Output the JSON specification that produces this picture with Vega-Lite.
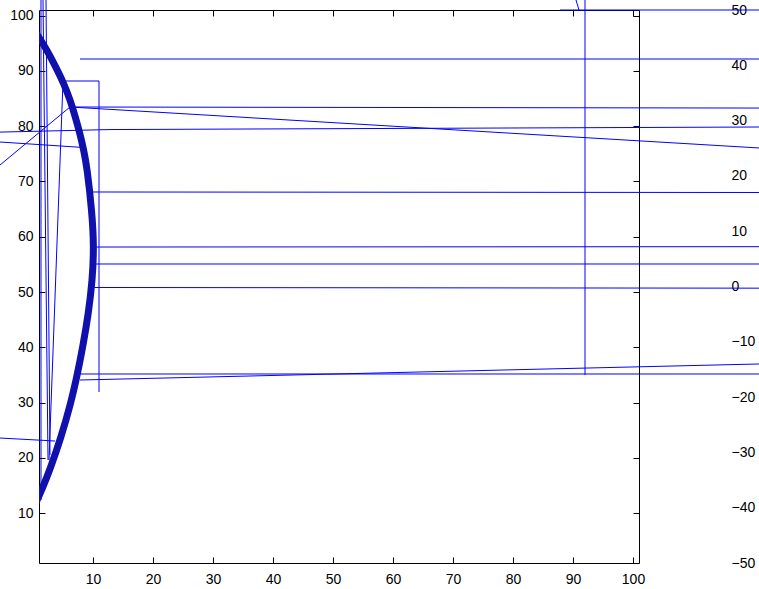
{
  "$schema": "https://vega.github.io/schema/vega-lite/v6.json",
  "width": 600,
  "height": 553,
  "autosize": {"type": "none"},
  "padding": {"left": 39, "top": 10, "right": 120, "bottom": 26},
  "background": "white",
  "config": {
    "view": {"stroke": null},
    "axis": {
      "grid": false,
      "title": null,
      "labelFont": "Liberation Sans",
      "labelFontSize": 14,
      "labelColor": "#000000",
      "domainColor": "#000000",
      "tickColor": "#000000",
      "domainWidth": 1,
      "tickWidth": 1
    }
  },
  "datasets": {
    "thin": [
      {"seg": "s1", "i": 0, "x": 1.333, "y": 102.81},
      {"seg": "s1", "i": 1, "x": 1.333, "y": 12.39},
      {"seg": "s2", "i": 0, "x": 1.667, "y": 102.81},
      {"seg": "s2", "i": 1, "x": 2.5, "y": 19.63},
      {"seg": "s3", "i": 0, "x": 2.167, "y": 102.81},
      {"seg": "s3", "i": 1, "x": 2.833, "y": 20.53},
      {"seg": "s4", "i": 0, "x": 11, "y": 31.92},
      {"seg": "s4", "i": 1, "x": 11, "y": 88.16},
      {"seg": "s4", "i": 2, "x": 5, "y": 88.16},
      {"seg": "s4", "i": 3, "x": 2.667, "y": 19.63},
      {"seg": "s5", "i": 0, "x": -5.5, "y": 72.97},
      {"seg": "s5", "i": 1, "x": 6.167, "y": 83.46},
      {"seg": "s5", "i": 2, "x": 121, "y": 83.27},
      {"seg": "s6", "i": 0, "x": 6.167, "y": 83.46},
      {"seg": "s6", "i": 1, "x": 121, "y": 76.05},
      {"seg": "s7", "i": 0, "x": 7.833, "y": 92.14},
      {"seg": "s7", "i": 1, "x": 121, "y": 92.14},
      {"seg": "s8", "i": 0, "x": -5.5, "y": 78.92},
      {"seg": "s8", "i": 1, "x": 12.833, "y": 79.38},
      {"seg": "s8", "i": 2, "x": 121, "y": 79.84},
      {"seg": "s9", "i": 0, "x": -5.5, "y": 77.13},
      {"seg": "s9", "i": 1, "x": 8.333, "y": 76.14},
      {"seg": "s10", "i": 0, "x": 10, "y": 68.09},
      {"seg": "s10", "i": 1, "x": 121, "y": 68.0},
      {"seg": "s11", "i": 0, "x": 10.5, "y": 58.14},
      {"seg": "s11", "i": 1, "x": 121, "y": 58.2},
      {"seg": "s12", "i": 0, "x": 10.5, "y": 55.07},
      {"seg": "s12", "i": 1, "x": 121, "y": 55.07},
      {"seg": "s13", "i": 0, "x": 10, "y": 50.82},
      {"seg": "s13", "i": 1, "x": 121, "y": 50.7},
      {"seg": "s14", "i": 0, "x": 7.833, "y": 35.18},
      {"seg": "s14", "i": 1, "x": 121, "y": 35.18},
      {"seg": "s15", "i": 0, "x": 7.833, "y": 34.09},
      {"seg": "s15", "i": 1, "x": 121, "y": 36.99},
      {"seg": "s16", "i": 0, "x": -5.5, "y": 23.6},
      {"seg": "s16", "i": 1, "x": 3.67, "y": 23.06},
      {"seg": "s17", "i": 0, "x": 92, "y": 102.81},
      {"seg": "s17", "i": 1, "x": 92, "y": 35.0},
      {"seg": "s18", "i": 0, "x": 87.833, "y": 101},
      {"seg": "s18", "i": 1, "x": 121, "y": 101},
      {"seg": "s19", "i": 0, "x": 90.5, "y": 102.81},
      {"seg": "s19", "i": 1, "x": 91, "y": 101}
    ],
    "arc": [
      {"i": 0, "x": 0.5, "y": 96.9},
      {"i": 1, "x": 2.33, "y": 93.77},
      {"i": 2, "x": 3.8, "y": 90.69},
      {"i": 3, "x": 5.1, "y": 87.8},
      {"i": 4, "x": 6.17, "y": 84.81},
      {"i": 5, "x": 7.05, "y": 81.65},
      {"i": 6, "x": 7.8, "y": 78.76},
      {"i": 7, "x": 8.45, "y": 75.68},
      {"i": 8, "x": 9.0, "y": 72.6},
      {"i": 9, "x": 9.85, "y": 64.29},
      {"i": 10, "x": 10.15, "y": 58.14},
      {"i": 11, "x": 9.9, "y": 52.18},
      {"i": 12, "x": 9.25, "y": 46.2},
      {"i": 13, "x": 8.3, "y": 40.06},
      {"i": 14, "x": 7.2, "y": 34.09},
      {"i": 15, "x": 6.3, "y": 29.93},
      {"i": 16, "x": 4.7, "y": 23.78},
      {"i": 17, "x": 2.8, "y": 17.82},
      {"i": 18, "x": 1.6, "y": 14.6},
      {"i": 19, "x": 0.5, "y": 11.9}
    ],
    "right": [{"r": -50}, {"r": 50}]
  },
  "layer": [
    {
      "data": {"name": "thin"},
      "mark": {"type": "line", "color": "#0000ff", "strokeWidth": 1},
      "encoding": {
        "x": {
          "field": "x", "type": "quantitative",
          "scale": {"domain": [1, 101], "nice": false, "zero": false},
          "axis": {"orient": "bottom", "values": [10, 20, 30, 40, 50, 60, 70, 80, 90, 100], "tickSize": -6, "labelPadding": 15, "labelFlush": false}
        },
        "y": {
          "field": "y", "type": "quantitative",
          "scale": {"domain": [1, 101], "nice": false, "zero": false},
          "axis": {"orient": "left", "values": [10, 20, 30, 40, 50, 60, 70, 80, 90, 100], "tickSize": -6, "labelPadding": 12}
        },
        "detail": {"field": "seg", "type": "nominal"},
        "order": {"field": "i", "type": "quantitative"}
      }
    },
    {
      "data": {"name": "arc"},
      "mark": {"type": "line", "color": "#1010ac", "strokeWidth": 7, "clip": true, "interpolate": "basis"},
      "encoding": {
        "x": {
          "field": "x", "type": "quantitative",
          "scale": {"domain": [1, 101], "nice": false, "zero": false},
          "axis": {"orient": "top", "values": [10, 20, 30, 40, 50, 60, 70, 80, 90, 100], "tickSize": -6, "labels": false}
        },
        "y": {
          "field": "y", "type": "quantitative",
          "scale": {"domain": [1, 101], "nice": false, "zero": false},
          "axis": {"orient": "right", "offset": 0, "values": [10, 20, 30, 40, 50, 60, 70, 80, 90, 100], "tickSize": -6, "labels": false}
        },
        "order": {"field": "i", "type": "quantitative"}
      }
    },
    {
      "data": {"name": "right"},
      "mark": {"type": "point", "opacity": 0},
      "encoding": {
        "y": {
          "field": "r", "type": "quantitative",
          "scale": {"domain": [-50, 50], "nice": false, "zero": false},
          "axis": {"orient": "right", "offset": 90, "values": [-50, -40, -30, -20, -10, 0, 10, 20, 30, 40, 50], "domain": false, "ticks": false, "tickSize": 0, "labelPadding": 2}
        }
      }
    }
  ],
  "resolve": {
    "scale": {"y": "independent"},
    "axis": {"x": "independent", "y": "independent"}
  }
}
